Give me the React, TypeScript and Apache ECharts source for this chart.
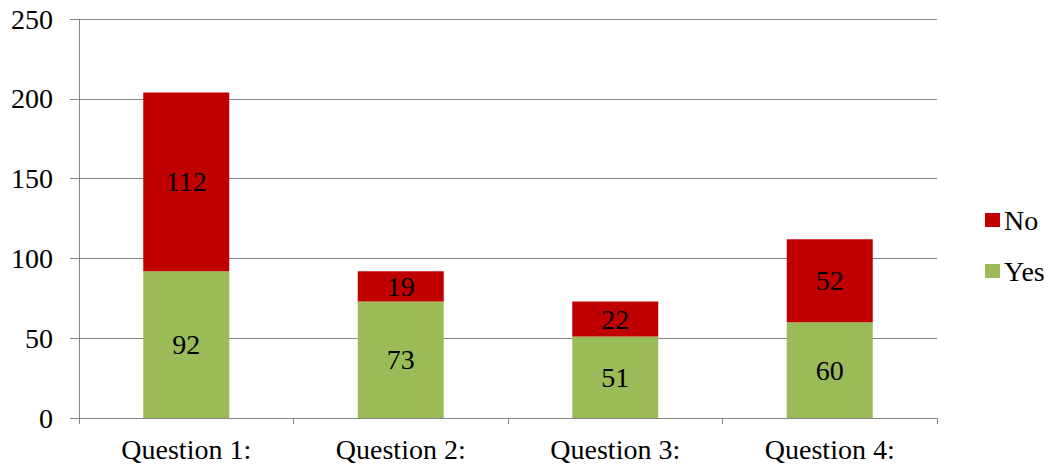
import React, { useEffect, useRef } from "react";
import * as echarts from "echarts";

const categories = ["Question 1:", "Question 2:", "Question 3:", "Question 4:"];
const yesValues = [92, 73, 51, 60];
const noValues = [112, 19, 22, 52];
const yTicks = { min: 0, max: 250, interval: 50 };

const FONT = "Liberation Serif";

export default function App() {
  const ref = useRef<HTMLDivElement>(null);
  useEffect(() => {
    if (!ref.current) return;
    const chart = echarts.init(ref.current, null, { renderer: "svg" });
    const labelStyle = {
      show: true,
      position: "inside" as const,
      color: "#000",
      fontFamily: FONT,
      fontSize: 28,
    };
    chart.setOption({
      animation: false,
      backgroundColor: "#fff",
      grid: { left: 79, right: 111, top: 19, bottom: 50 },
      legend: {
        orient: "vertical",
        left: 980,
        top: 201,
        itemWidth: 15,
        itemHeight: 14,
        itemGap: 23,
        data: ["No", "Yes"],
        icon: "rect",
        textStyle: {
          fontFamily: FONT,
          fontSize: 28,
          lineHeight: 28,
          color: "#000",
          padding: [0, 0, 0, -1],
        },
      },
      xAxis: {
        type: "category",
        data: categories,
        axisLine: { lineStyle: { color: "#868686", width: 1 } },
        axisTick: { show: true, length: 6, lineStyle: { color: "#868686" } },
        axisLabel: { fontFamily: FONT, fontSize: 28, color: "#000", margin: 17 },
      },
      yAxis: {
        type: "value",
        min: yTicks.min,
        max: yTicks.max,
        interval: yTicks.interval,
        axisLine: { show: true, lineStyle: { color: "#868686", width: 1 } },
        axisTick: { show: true, length: 9, lineStyle: { color: "#868686" } },
        splitLine: { lineStyle: { color: "#868686", width: 1 } },
        axisLabel: { fontFamily: FONT, fontSize: 28, color: "#000", margin: 26 },
      },
      series: [
        {
          name: "Yes",
          type: "bar",
          stack: "total",
          data: yesValues,
          barWidth: 86,
          itemStyle: { color: "#9BBB59" },
          label: labelStyle,
        },
        {
          name: "No",
          type: "bar",
          stack: "total",
          data: noValues,
          barWidth: 86,
          itemStyle: { color: "#C00000" },
          label: labelStyle,
        },
      ],
    });
    return () => chart.dispose();
  }, []);
  return (
    <div
      ref={ref}
      style={{ position: "absolute", left: 0, top: 0, width: 1048, height: 468 }}
    />
  );
}
